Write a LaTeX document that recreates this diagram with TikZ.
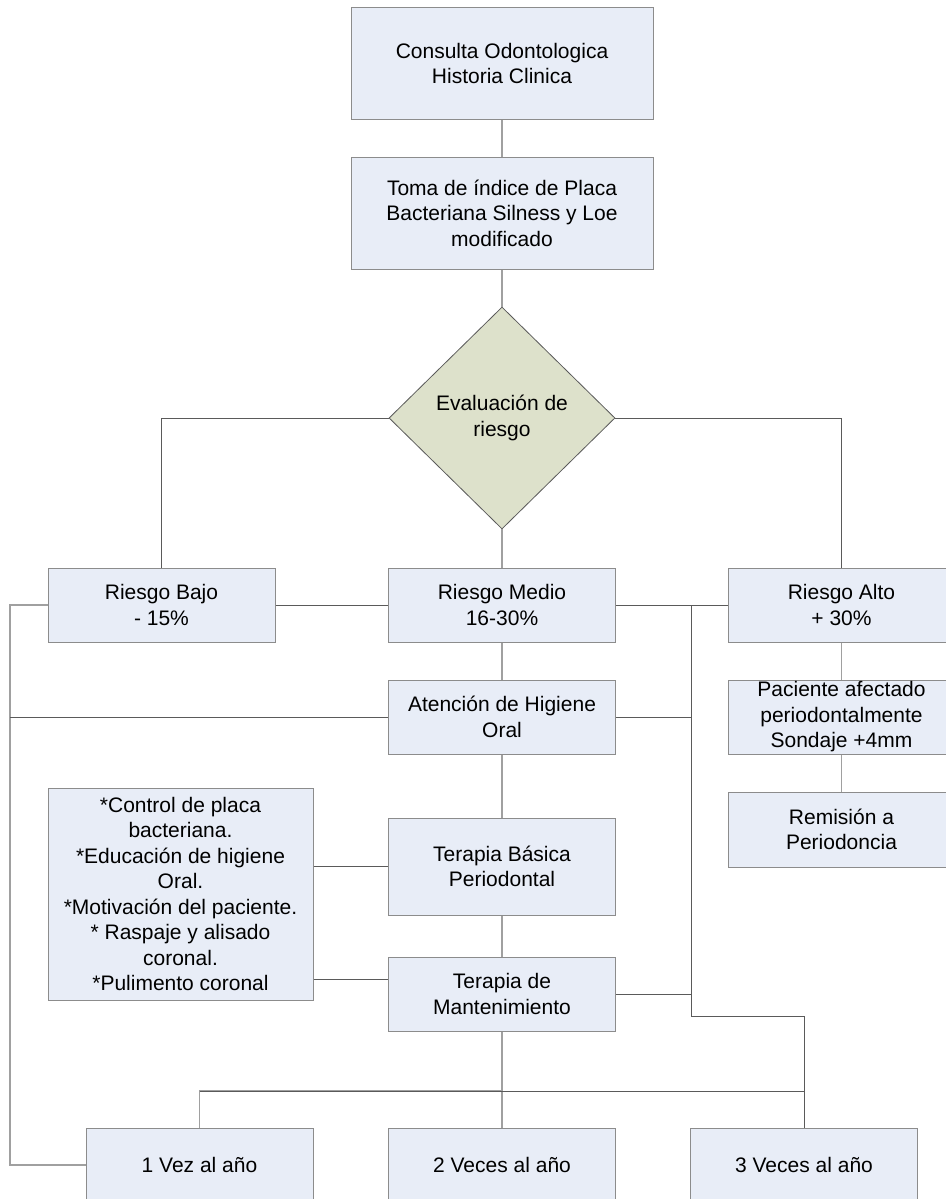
\documentclass[tikz,border=0pt]{standalone}
\usepackage{fontspec}
\setmainfont{Liberation Sans}
\usetikzlibrary{shapes.geometric}
\definecolor{boxfill}{HTML}{E8EDF7}
\definecolor{boxline}{HTML}{8C8C8C}
\definecolor{evalfill}{HTML}{DDE1CB}
\definecolor{linkdark}{HTML}{5A5A5A}
\definecolor{linklight}{HTML}{A0A0A0}

\begin{document}
\begin{tikzpicture}[x=1pt, y=-1pt,
    font=\fontsize{21}{25.5}\selectfont,
    box/.style={draw=boxline, fill=boxfill, line width=1pt, rectangle, align=center,
        inner sep=0pt, minimum width=227pt, minimum height=74pt},
    decision/.style={draw=linkdark, fill=evalfill, line width=0.8pt, diamond, align=center,
        inner sep=0pt, minimum width=226pt, minimum height=222pt},
    link/.style={draw=linkdark, line width=1pt},
    stem/.style={draw=linklight, line width=1.2pt}]
    \useasboundingbox (0,0) rectangle (945,1199);

    % top of the chart
    \node[box, minimum width=302pt, minimum height=111pt] (cons) at (502,63.5)
        {Consulta Odontologica\\Historia Clinica};
    \node[box, minimum width=302pt, minimum height=112pt] (toma) at (502,213)
        {Toma de índice de Placa\\Bacteriana Silness y Loe\\modificado};
    \node[decision] (eval) at (502,418) {Evaluación de\\riesgo};

    % risk levels
    \node[box] (bajo) at (161.5,605) {Riesgo Bajo\\- 15\%};
    \node[box] (medio) at (502,605) {Riesgo Medio\\16-30\%};
    \node[box] (alto) at (841.5,605) {Riesgo Alto\\+ 30\%};

    % middle column
    \node[box] (aten) at (502,717) {Atención de Higiene\\Oral};
    \node[box, minimum height=97pt] (tb) at (502,866.5) {Terapia Básica\\Periodontal};
    \node[box] (tm) at (502,994) {Terapia de\\Mantenimiento};
    \node[box, minimum width=265pt, minimum height=212pt] (ctrl) at (180.5,894)
        {*Control de placa\\bacteriana.\\*Educación de higiene\\Oral.\\*Motivación del paciente.\\* Raspaje y alisado\\coronal.\\*Pulimento coronal};

    % right column
    \node[box] (pac) at (841.5,717) {Paciente afectado\\periodontalmente\\Sondaje +4mm};
    \node[box, minimum height=75pt] (rem) at (841.5,829.5) {Remisión a\\Periodoncia};

    % frequency
    \node[box] (vez1) at (199.5,1165) {1 Vez al año};
    \node[box] (vez2) at (502,1165) {2 Veces al año};
    \node[box] (vez3) at (804,1165) {3 Veces al año};

    \coordinate (jl) at (10,605);
    \coordinate (jr) at (691,605);
    \coordinate (kr) at (691,1016);
    \coordinate (hb) at (502,1091);
    \coordinate (ml) at (350,979);

    \draw[stem] (cons) -- (toma);
    \draw[stem] (toma) -- (eval.north);
    \draw[link] (eval.west) -| (bajo.north);
    \draw[link] (eval.east) -| (alto.north);
    \draw[stem] (eval.south) -- (medio.north);
    \draw[link] (bajo.east) -- (medio.west);
    \draw[link] (medio.east) -- (alto.west);
    \draw[stem] (medio) -- (aten);
    \draw[stem] (aten) -- (tb);
    \draw[stem] (tb) -- (tm);
    \draw[stem] (tm) -- (vez2);
    \draw[stem] (alto) -- (pac);
    \draw[stem] (pac) -- (rem);
    \draw[link] (jr) -- (kr) -| (vez3.north);
    \draw[link] (aten.east) -- (aten.east -| jr);
    \draw[link] (tm.east) -- (tm.east -| jr);
    \draw[stem] (bajo.west) -- (jl) |- (vez1.west);
    \draw[link] (aten.west) -- (aten.west -| jl);
    \draw[stem] (vez1.north) |- (hb);
    \draw[link] (hb -| vez1.north) -- (hb -| vez3.north);
    \draw[link] (ctrl.east |- tb.west) -- (tb.west);
    \draw[link] (ctrl.east |- ml) -- (tm.west |- ml);
\end{tikzpicture}
\end{document}
